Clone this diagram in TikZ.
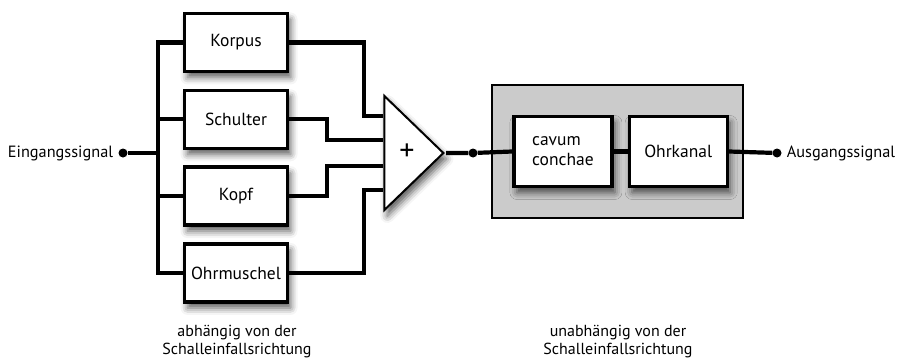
\documentclass[tikz,border=0pt]{standalone}
\usepackage{fontspec}
\setmainfont{PT Sans}
\usetikzlibrary{positioning,shapes.geometric,shadows.blur,calc}
\definecolor{eargrey}{HTML}{CBCBCB}
\tikzset{
  blk/.style   ={rectangle, draw=black, line width=3.3pt, fill=white,
                 minimum width=103pt, minimum height=58pt, inner sep=2pt,
                 font=\fontsize{17.5}{20}\selectfont,
                 blur shadow={shadow xshift=3pt, shadow yshift=-6pt,
                              shadow blur radius=7pt, shadow opacity=65}},
  blks/.style  ={blk, minimum width=98pt, minimum height=70pt},
  summer/.style={isosceles triangle, isosceles triangle stretches,
                 shape border rotate=0, draw=black, line width=2pt,
                 fill=white, inner sep=0pt, minimum width=114pt, minimum height=59pt,
                 blur shadow={shadow xshift=3pt, shadow yshift=-6pt,
                              shadow blur radius=7pt, shadow opacity=65}},
  earbox/.style={rectangle, draw=black, line width=2.5pt, fill=eargrey,
                 minimum width=251pt, minimum height=133pt},
  wire/.style  ={line width=4.2pt, draw=black},
  dot/.style   ={circle, fill=black, inner sep=0pt, minimum size=9pt},
  sig/.style   ={font=\fontsize{16.3}{18}\selectfont, inner sep=1pt},
  note/.style  ={align=center, font=\fontsize{16}{18.5}\selectfont, inner sep=0pt}
}
\begin{document}
\begin{tikzpicture}[x=1pt,y=1pt,node distance=15.5pt]
  \useasboundingbox (0,0) rectangle (899,360);
  % direction dependent part
  \node[blk] (korpus) at (236,317.5) {Korpus};
  \node[blk,below=of korpus] (schulter) {Schulter};
  \node[blk,below=of schulter] (kopf) {Kopf};
  \node[blk,below=of kopf] (ohrmuschel) {Ohrmuschel};
  \node[summer,anchor=apex] (sum) at (446,207) {};
  \node[font=\fontsize{30}{30}\selectfont\itshape\upshape] (plus) at (407,208) {+};
  \node[dot] (in) at (123,207) {};
  \coordinate (bus) at (158,207);
  \node[sig,left=4pt of in] {Eingangssignal};
  \draw[wire] (in) -- (bus);
  \draw[wire] (korpus.west) -| (bus);
  \draw[wire] (ohrmuschel.west) -| (bus);
  \draw[wire] (schulter.west) -- (schulter.west -| bus);
  \draw[wire] (kopf.west) -- (kopf.west -| bus);
  \draw[wire] (korpus.east) -| ([xshift=-19pt,yshift=37pt]sum.west) -- ([yshift=37pt]sum.west);
  \draw[wire] (schulter.east) -| ([xshift=-56pt,yshift=13pt]sum.west) -- ([yshift=13pt]sum.west);
  \draw[wire] (kopf.east) -| ([xshift=-56pt,yshift=-13pt]sum.west) -- ([yshift=-13pt]sum.west);
  \draw[wire] (ohrmuschel.east) -| ([xshift=-19pt,yshift=-37pt]sum.west) -- ([yshift=-37pt]sum.west);
  % direction independent part
  \node[earbox] (ear) at (617.5,208.5) {};
  \node[blks,align=left,right=21.5pt of ear.west] (cavum) {cavum\\conchae};
  \node[blks,right=14pt of cavum] (ohrkanal) {Ohrkanal};
  \node[dot] (mid) at (473,207) {};
  \node[dot] (out) at (777,207) {};
  \node[sig,right=4pt of out] {Ausgangssignal};
  \draw[wire] (sum.apex) -- (mid) -- (cavum.west);
  \draw[wire] (cavum.east) -- (ohrkanal.west);
  \draw[wire] (ohrkanal.east) -- (out);
  \node[note] (dep) at (237,18.5) {abhängig von der\\Schalleinfallsrichtung};
  \node[note] (indep) at (618,18.5) {unabhängig von der\\Schalleinfallsrichtung};
\end{tikzpicture}
\end{document}
